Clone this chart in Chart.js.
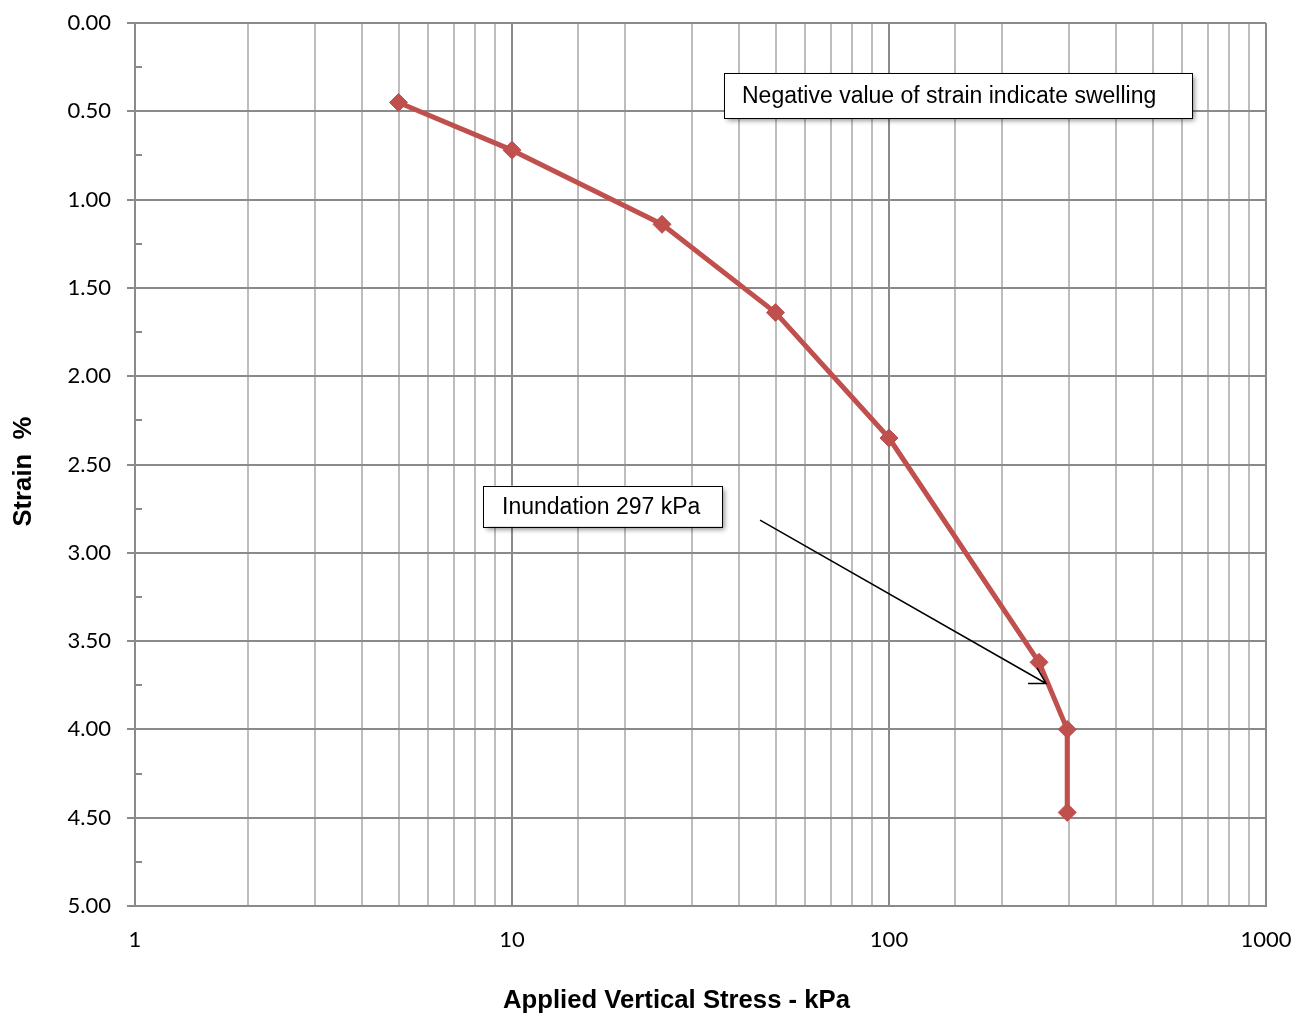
<!DOCTYPE html>
<html>
<head>
<meta charset="utf-8">
<title>Strain vs Applied Vertical Stress</title>
<script src="https://cdn.jsdelivr.net/npm/chart.js@4.4.1/dist/chart.umd.min.js"></script>
<style>
  html, body { margin: 0; padding: 0; background: #ffffff; }
  #wrap { position: relative; width: 1295px; height: 1015px; }
</style>
</head>
<body>
<div id="wrap"><canvas id="chart" width="1295" height="1015"></canvas></div>
<script>
// Oedometer loading stage: applied vertical stress (kPa) and measured strain (%)
const stressKPa = [5, 10, 25, 50, 100, 250, 297, 297];
const strainPct = [0.45, 0.72, 1.14, 1.64, 2.35, 3.62, 4.00, 4.47];

// Axis extents and labels
const xDecades = [1, 10, 100, 1000];
const yMin = 0;
const yMax = 5;
const yMajorStep = 0.5;
const yMinorStep = 0.25;

const xTitle = 'Applied Vertical Stress - kPa';
const yTitle = 'Strain  %  ';
const noteSwelling = 'Negative value of strain indicate swelling';
const noteInundation = 'Inundation 297 kPa';

const points = stressKPa.map((s, i) => ({ x: s, y: strainPct[i] }));

const GRID_DARK = '#8a8a8a';
const GRID_LIGHT = '#bdbdbd';
const SERIES = '#C0504D';

function isDecade(v) {
  const l = Math.log10(v);
  return Math.abs(l - Math.round(l)) < 1e-9;
}

// Strain axis tick marks: major ones outside the plot, minor ones just inside
const strainTicks = {
  id: 'strainTicks',
  afterDraw(chart) {
    const { ctx, scales: { y }, chartArea } = chart;
    ctx.save();
    ctx.strokeStyle = GRID_DARK;
    ctx.lineWidth = 2;
    for (let v = yMin; v <= yMax + 1e-9; v += yMajorStep) {
      const py = Math.round(y.getPixelForValue(v));
      ctx.beginPath();
      ctx.moveTo(chartArea.left - 8, py);
      ctx.lineTo(chartArea.left, py);
      ctx.stroke();
    }
    for (let v = yMin + yMinorStep; v < yMax; v += yMajorStep) {
      const py = Math.round(y.getPixelForValue(v));
      ctx.beginPath();
      ctx.moveTo(chartArea.left, py);
      ctx.lineTo(chartArea.left + 7, py);
      ctx.stroke();
    }
    ctx.restore();
  }
};

// Text boxes with soft shadow and the arrow pointing at the inundation stage
const notes = {
  id: 'notes',
  afterDatasetsDraw(chart) {
    const { ctx, scales: { x, y } } = chart;

    function box(text, left, top, w, h, padL) {
      ctx.save();
      ctx.shadowColor = 'rgba(0,0,0,0.45)';
      ctx.shadowBlur = 5;
      ctx.shadowOffsetX = 3;
      ctx.shadowOffsetY = 3;
      ctx.fillStyle = '#ffffff';
      ctx.fillRect(left, top, w, h);
      ctx.restore();
      ctx.save();
      ctx.strokeStyle = '#000000';
      ctx.lineWidth = 1;
      ctx.strokeRect(Math.round(left) + 0.5, Math.round(top) + 0.5, w, h);
      ctx.fillStyle = '#000000';
      ctx.font = '23px "Liberation Sans", Arial, sans-serif';
      ctx.textBaseline = 'middle';
      ctx.textAlign = 'left';
      ctx.fillText(text, left + padL, top + h / 2 + 1);
      ctx.restore();
    }

    // Arrow from the inundation note towards the 250-297 kPa segment
    const x0 = x.getPixelForValue(45.5), y0 = y.getPixelForValue(2.815);
    const x1 = x.getPixelForValue(261), y1 = y.getPixelForValue(3.74);
    ctx.save();
    ctx.strokeStyle = '#000000';
    ctx.lineWidth = 1.5;
    ctx.beginPath();
    ctx.moveTo(x0, y0);
    ctx.lineTo(x1, y1);
    const ang = Math.atan2(y1 - y0, x1 - x0);
    const len = 18, spread = Math.PI / 6;
    ctx.moveTo(x1 - len * Math.cos(ang - spread), y1 - len * Math.sin(ang - spread));
    ctx.lineTo(x1, y1);
    ctx.lineTo(x1 - len * Math.cos(ang + spread), y1 - len * Math.sin(ang + spread));
    ctx.stroke();
    ctx.restore();

    box(noteSwelling, x.getPixelForValue(36.5), y.getPixelForValue(0.283), 468, 45, 18);
    box(noteInundation, x.getPixelForValue(8.38), y.getPixelForValue(2.62), 239, 41, 19);
  }
};

// Horizontal axis title, drawn slightly left of the plot centre
const xAxisTitle = {
  id: 'xAxisTitle',
  afterDraw(chart) {
    const { ctx, chartArea } = chart;
    ctx.save();
    ctx.fillStyle = '#000000';
    ctx.font = 'bold 25.7px "Liberation Sans", Arial, sans-serif';
    ctx.textAlign = 'center';
    ctx.textBaseline = 'middle';
    ctx.fillText(xTitle, (chartArea.left + chartArea.right) / 2 - 24, chartArea.bottom + 95);
    ctx.restore();
  }
};

new Chart(document.getElementById('chart'), {
  type: 'scatter',
  data: {
    datasets: [{
      label: 'Strain',
      data: points,
      showLine: true,
      borderColor: SERIES,
      backgroundColor: SERIES,
      borderWidth: 5,
      tension: 0,
      borderJoinStyle: 'round',
      pointStyle: 'rectRot',
      pointRadius: 9,
      pointHoverRadius: 9,
      pointBackgroundColor: SERIES,
      pointBorderColor: SERIES,
      pointBorderWidth: 1
    }]
  },
  options: {
    responsive: false,
    animation: false,
    events: [],
    layout: { padding: { top: 23, right: 29, left: 0, bottom: 0 } },
    plugins: {
      legend: { display: false },
      tooltip: { enabled: false }
    },
    scales: {
      x: {
        type: 'logarithmic',
        min: xDecades[0],
        max: xDecades[xDecades.length - 1],
        afterFit(scale) { scale.height = 109; },
        border: { display: true, color: GRID_DARK, width: 2 },
        grid: {
          drawTicks: true,
          tickLength: 21,
          tickColor: 'rgba(0,0,0,0)',
          lineWidth: 2,
          color: (c) => (c.tick && isDecade(c.tick.value)) ? GRID_DARK : GRID_LIGHT
        },
        ticks: {
          autoSkip: false,
          maxRotation: 0,
          padding: 0,
          color: '#000000',
          font: { family: 'Lato, "Open Sans", sans-serif', size: 22 },
          callback: (v) => xDecades.includes(v) ? String(v) : ''
        },
        title: { display: false }
      },
      y: {
        reverse: true,
        min: yMin,
        max: yMax,
        afterFit(scale) { scale.width = 135; },
        border: { display: true, color: GRID_DARK, width: 2 },
        grid: {
          lineWidth: 2,
          color: GRID_DARK,
          tickColor: 'rgba(0,0,0,0)',
          tickLength: 16
        },
        ticks: {
          stepSize: yMajorStep,
          padding: 8,
          color: '#000000',
          font: { family: 'Lato, "Open Sans", sans-serif', size: 22 },
          callback: (v) => Number(v).toFixed(2)
        },
        title: {
          display: true,
          text: yTitle,
          color: '#000000',
          font: { family: '"Liberation Sans", Arial, sans-serif', size: 25.7, weight: 'bold' },
          padding: { top: 8.6, bottom: 0 }
        }
      }
    }
  },
  plugins: [strainTicks, notes, xAxisTitle]
});
</script>
</body>
</html>
